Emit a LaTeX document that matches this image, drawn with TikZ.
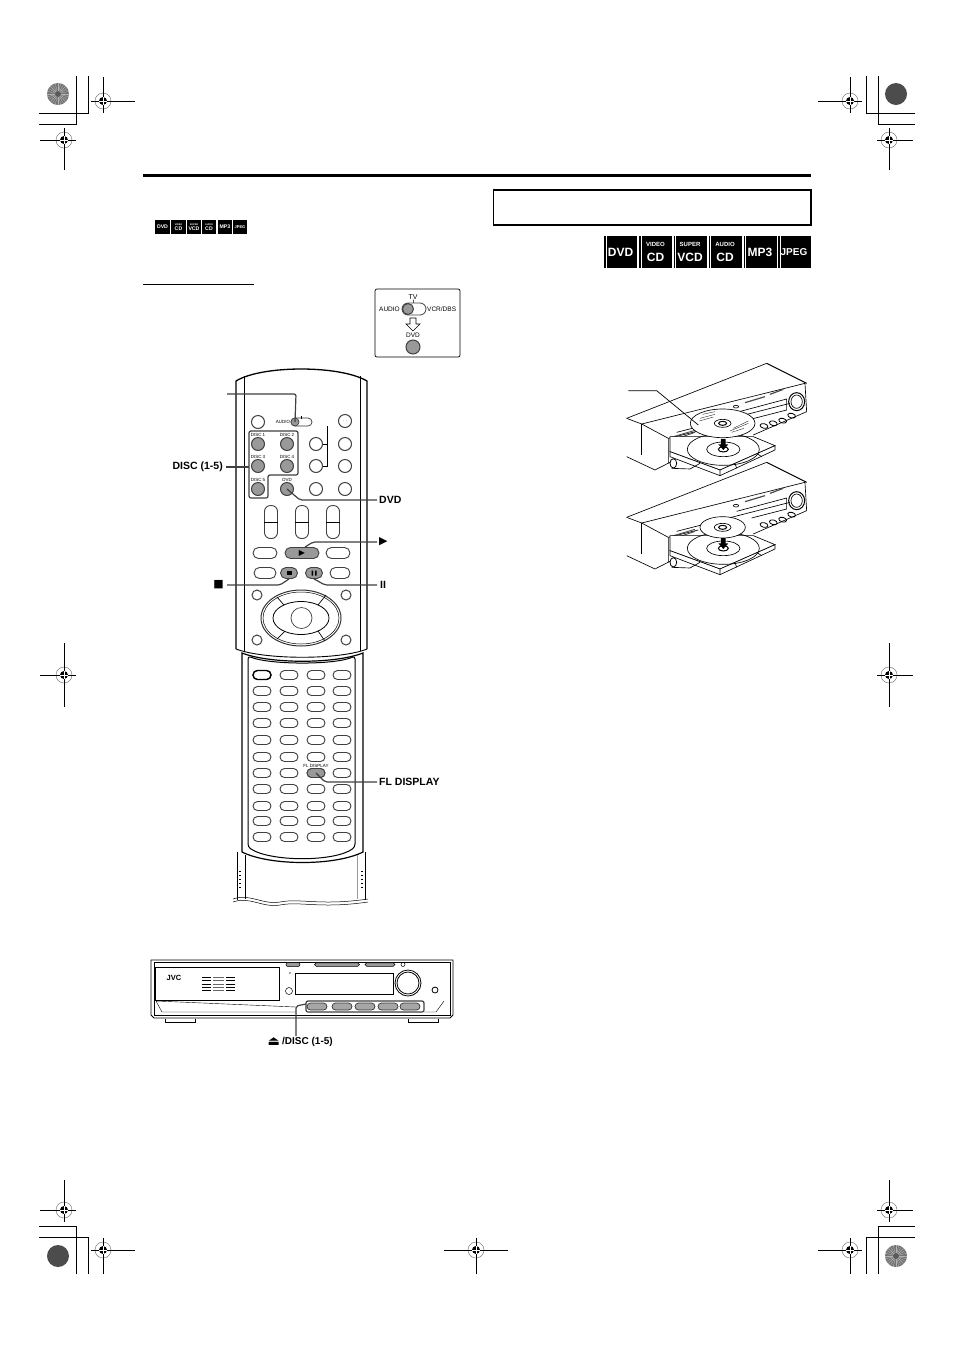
\documentclass[tikz,border=0pt]{standalone}
\usepackage{fontspec}
\setmainfont{Liberation Sans}
\newfontfamily\symfont{DejaVu Sans}
\usepackage{tikz}
\usetikzlibrary{shapes.misc}

\newcommand{\regmark}[6]{%
    \draw[black!60, line width=0.4pt] (#1,#2) circle (8);
    \draw[line width=0.8pt] (#1-#3,#2) -- (#1+#4,#2);
    \draw[line width=0.8pt] (#1,#2-#5) -- (#1,#2+#6);
    \fill (#1,#2) circle (4);
    \draw[white, line width=0.3pt] (#1-4,#2) -- (#1+4,#2) (#1,#2-4) -- (#1,#2+4);
}
\newcommand{\spokedot}[2]{%
    \fill[black!55] (#1,#2) circle (11);
    \foreach \ang in {0,15,...,345} {
        \draw[black!30, line width=0.4pt] (#1,#2) -- ++(\ang:11);
    }
    \fill[black!65] (#1,#2) circle (3);
}
\newcommand{\playerunit}[1]{%
    \begin{scope}[shift={(620,#1)}, x=0.3333pt, y=-0.3333pt, line width=0.65pt]
        \draw (20,190) -- (440,25);
        \draw[line width=1pt] (440,25) .. controls (490,50) .. (560,85);
        \draw (20,190) -- (65,207) -- (555,85) -- (560,170) -- (400,240);
        \draw (65,207) -- (65,300);
        \draw (65,207) -- (145,250) -- (145,325);
        \draw (20,305) -- (105,345) -- (150,322);
        \draw (145,250) -- (235,228) (170,232) -- (510,145);
        \draw[black!70, line width=0.9pt] (150,258) -- (225,232) (150,248) -- (225,226);
        \draw (350,172) -- (500,132) -- (500,165) -- (395,192);
        \draw[line width=1.2pt, black!70] (375,143) -- (435,125) (450,118) -- (490,103);
        \draw (348,155) ellipse [x radius=8, y radius=4];
        \draw[line width=1pt] (530,140) ellipse [x radius=24, y radius=27];
        \draw (530,140) ellipse [x radius=17, y radius=20];
        \foreach \xpos/\ypos in {432/213, 460/205, 488/197, 515/182} {
            \draw[line width=0.8pt, rotate around={-15:(\xpos,\ypos)}] (\xpos,\ypos) ellipse [x radius=12, y radius=7];
        }
        \filldraw[fill=white] (150,290) -- (300,345) -- (465,272) -- (400,245) -- (150,245) -- cycle;
        \filldraw[fill=white] (150,290) -- (150,305) -- (300,362) -- (465,285) -- (465,272) -- (300,345) -- cycle;
        \draw (300,345) -- (300,362) (345,325) -- (350,340) (410,295) -- (425,305);
        \draw (310,283) ellipse [x radius=108, y radius=48];
        \draw (310,283) ellipse [x radius=50, y radius=22];
        \draw[line width=1pt] (310,283) ellipse [x radius=15, y radius=8];
        \draw[line width=0.8pt] (160,325) ellipse [x radius=10, y radius=14];
        \draw (155,340) -- (210,342) -- (240,325);
        \fill (303,252) -- (317,252) -- (317,268) -- (325,268) -- (310,285) -- (295,268) -- (303,268) -- cycle;
    \end{scope}
}
\newcommand{\tinylabel}[3]{\node[tinytext] (#3) at (#1) {#2};}

\begin{document}
\begin{tikzpicture}[
    x=1pt, y=-1pt,
    >=stealth,
    roundbtn/.style={draw=black!75, circle, fill=white, inner sep=0pt, minimum size=13pt, line width=1pt},
    greybtn/.style={roundbtn, fill=black!40},
    pillbtn/.style={draw=black!75, rounded rectangle, fill=white, inner sep=0pt, minimum width=18pt, minimum height=9pt, line width=0.9pt},
    greypill/.style={pillbtn, fill=black!40},
    rocker/.style={draw=black!75, rectangle, rounded corners=6pt, fill=white, minimum width=13pt, minimum height=33pt, line width=0.9pt},
    frontbtn/.style={draw=black!80, rounded rectangle, fill=black!35, inner sep=0pt, minimum width=20pt, minimum height=7pt, line width=0.7pt},
    leader/.style={draw=black!75, line width=1.2pt, rounded corners=2pt},
    callout/.style={font=\fontsize{10.5}{12}\selectfont\bfseries, inner sep=0pt},
    tinytext/.style={font=\fontsize{4.5}{5}\selectfont, inner sep=0pt},
    insettext/.style={font=\fontsize{6.5}{7}\selectfont, inner sep=0pt},
    biglogo/.style={fill=black, text=white, inner sep=0pt, align=center, minimum width=33pt, minimum height=32pt, font=\fontsize{12}{12}\selectfont\bfseries},
    smalllogo/.style={fill=black, text=white, inner sep=0pt, align=center, minimum width=14pt, minimum height=14pt, font=\fontsize{5.2}{5.2}\selectfont\bfseries}
]
    \useasboundingbox (0,0) rectangle (954,1350);
    \fill[white] (0,0) rectangle (954,1350);

    % crop marks
    \draw[line width=0.8pt] (39,113) -- (88,113) -- (88,76) (39,124) -- (76,124) -- (76,76);
    \draw[line width=0.8pt] (915,113) -- (866,113) -- (866,76) (915,124) -- (878,124) -- (878,76);
    \draw[line width=0.8pt] (39,1226) -- (76,1226) -- (76,1274) (39,1237) -- (88,1237) -- (88,1274);
    \draw[line width=0.8pt] (915,1226) -- (878,1226) -- (878,1274) (915,1237) -- (866,1237) -- (866,1274);
    \spokedot{58}{94}
    \spokedot{896}{1256}
    \fill[black!70] (896,94) circle (11);
    \fill[black!70] (58,1256) circle (11);
    \regmark{103}{101}{12}{32}{24}{12}
    \regmark{850}{101}{32}{12}{24}{12}
    \regmark{64}{140}{24}{12}{12}{30}
    \regmark{889}{140}{12}{24}{12}{30}
    \regmark{64}{675}{24}{12}{32}{32}
    \regmark{889}{675}{12}{24}{32}{32}
    \regmark{64}{1210}{24}{12}{30}{12}
    \regmark{889}{1210}{12}{24}{30}{12}
    \regmark{103}{1250}{12}{32}{12}{24}
    \regmark{850}{1250}{32}{12}{12}{24}
    \regmark{476}{1250}{32}{32}{12}{24}

    % page rules
    \draw[line width=3pt] (143,175) -- (811,175);
    \draw[line width=1pt] (143,284) -- (254,284);
    \draw[line width=0.5pt] (493,190) -- (493,225);
    \draw[line width=1.5pt] (493,190) -- (811,190) -- (811,225) -- (493,225);

    % small logos
    \node[smalllogo, minimum width=15pt] (sdvd) at (162.5,227) {DVD};
    \node[smalllogo, minimum width=15pt] (svideo) at (178.5,227) {{\fontsize{2.4}{3}\selectfont VIDEO}\\CD};
    \node[smalllogo, minimum width=14pt] (ssuper) at (194,227) {{\fontsize{2.4}{3}\selectfont SUPER}\\VCD};
    \node[smalllogo, minimum width=14pt] (saudio) at (209,227) {{\fontsize{2.4}{3}\selectfont AUDIO}\\CD};
    \node[smalllogo, minimum width=14pt] (smp) at (225,227) {MP3};
    \node[smalllogo, minimum width=14pt, font=\fontsize{4}{4}\selectfont\bfseries] (sjpeg) at (240,227) {JPEG};

    % big logos
    \node[biglogo] (bdvd) at (620.5,252) {DVD};
    \node[biglogo] (bvideo) at (655.5,252) {{\fontsize{6}{7}\selectfont VIDEO}\\[3pt]CD};
    \node[biglogo] (bsuper) at (690,252) {{\fontsize{6}{7}\selectfont SUPER}\\[3pt]VCD};
    \node[biglogo] (baudio) at (725,252) {{\fontsize{6}{7}\selectfont AUDIO}\\[3pt]CD};
    \node[biglogo] (bmp) at (760,252) {MP3};
    \node[biglogo, font=\fontsize{10}{10}\selectfont\bfseries] (bjpeg) at (794,252) {JPEG};
    \foreach \xpos in {606,641,675,710,745,780} {
        \draw[white, line width=0.6pt] (\xpos,236) -- (\xpos,268);
    }

    % inset
    \node[draw, rounded corners=2pt, line width=0.7pt, minimum width=85pt, minimum height=68pt, inner sep=0pt] (inset) at (417.5,323) {};
    \node[insettext, font=\fontsize{7}{8}\selectfont] (itv) at (413,297) {TV};
    \node[draw=black!75, rounded rectangle, line width=0.8pt, minimum width=24pt, minimum height=12pt, inner sep=0pt] (islide) at (414,309) {};
    \node[greybtn, minimum size=11pt] (iknob) at (408,309) {};
    \node[insettext, anchor=east] (iaudio) at (400,309) {AUDIO};
    \node[insettext, anchor=west] (ivcr) at (427,309) {VCR/DBS};
    \draw[line width=0.6pt] (itv) -- (islide);
    \draw[line width=0.6pt, fill=white] (410,318) -- (416,318) -- (416,324) -- (420,324) -- (413,331) -- (406,324) -- (410,324) -- cycle;
    \node[insettext] (idvd) at (413,335) {DVD};
    \node[greybtn, minimum size=14pt] (idvdbtn) at (413,347) {};

    % remote body
    \draw[line width=1.3pt] (236,649) -- (236,381) .. controls (262,365) and (340,365) .. (367,381) -- (367,649);
    \draw[line width=0.7pt] (244,376) -- (244,651) (360,376) -- (360,651);
    \draw[line width=0.9pt] (236,649) .. controls (265,660) and (340,660) .. (367,649);
    \draw[line width=1.2pt] (242,852) -- (242,653) .. controls (270,664) and (335,664) .. (363,653) -- (363,852) .. controls (335,866) and (270,866) .. (242,852);
    \draw[line width=1pt, rounded corners=3pt] (248,656) .. controls (270,665) and (335,665) .. (355,656) -- (355,847) .. controls (335,862) and (270,862) .. (248,847) -- cycle;
    \draw[line width=0.7pt] (237,852) -- (237,900) (365,852) -- (365,900) (245,855) -- (245,899);
    \draw[black!40, line width=0.7pt] (357,855) -- (357,899);
    \draw[line width=0.5pt] (233,899) .. controls (250,893) and (262,905) .. (280,902) .. controls (300,898) and (320,906) .. (368,899);
    \draw[line width=0.5pt] (233,902) .. controls (250,896) and (262,908) .. (280,905) .. controls (300,901) and (320,909) .. (368,902);
    \foreach \ypos in {871,875,...,887} {
        \draw[line width=0.4pt] (239,\ypos) -- (241,\ypos) (361,\ypos) -- (363,\ypos);
    }

    % top buttons
    \node[roundbtn] (topl) at (258,422) {};
    \node[roundbtn] (topr) at (345,421) {};
    \node[tinytext, font=\fontsize{3}{3}\selectfont] (topdots) at (345,421) {$\cdot\,\cdot$};
    \node[draw=black!80, rounded rectangle, fill=white, line width=0.7pt, minimum width=21pt, minimum height=8pt, inner sep=0pt] (slider) at (301.5,422) {};
    \node[greybtn, minimum size=8pt, line width=0.7pt] (sliderknob) at (295,422) {};
    \tinylabel{283,422}{AUDIO}{audiotxt}
    \draw[line width=0.4pt] (301,416) -- (301,419);

    % disc group
    \draw[leader] (249,431) -- (298,431) -- (298,475) -- (268,475) -- (268,498) -- (249,498) -- cycle;
    \node[greybtn] (disca) at (258,444) {};
    \node[greybtn] (discb) at (287,444) {};
    \node[greybtn] (discc) at (258,466) {};
    \node[greybtn] (discd) at (287,466) {};
    \node[greybtn] (disce) at (258,489) {};
    \node[greybtn] (dvdbtn) at (287,489) {};
    \tinylabel{258,434.5}{DISC 1}{labela}
    \tinylabel{287,434.5}{DISC 2}{labelb}
    \tinylabel{258,457}{DISC 3}{labelc}
    \tinylabel{287,457}{DISC 4}{labeld}
    \tinylabel{258,479.5}{DISC 5}{labele}
    \tinylabel{287,479.5}{DVD}{labeldvd}

    % side buttons
    \node[roundbtn] (mida) at (316,444) {};
    \node[roundbtn] (midb) at (316,466) {};
    \node[roundbtn] (midc) at (316,489) {};
    \node[roundbtn] (rgta) at (345,444) {};
    \node[roundbtn] (rgtb) at (345,466) {};
    \node[roundbtn] (rgtc) at (345,489) {};
    \coordinate (bracktop) at (327,426);
    \draw[line width=0.7pt] (bracktop) -- (bracktop |- midb) -- (midb.east);
    \draw[line width=0.7pt] (mida.east) -- (bracktop |- mida);

    % rockers
    \foreach \xpos/\nm in {271/rocka, 302/rockb, 333/rockc} {
        \node[rocker] (\nm) at (\xpos,522) {};
        \draw[line width=1pt] (\nm.west) -- (\nm.east);
    }

    % transport row
    \node[pillbtn, minimum width=24pt, minimum height=11pt] (ovala) at (265,553) {};
    \node[greypill, minimum width=34pt, minimum height=11pt] (playbtn) at (302,553) {};
    \node[pillbtn, minimum width=24pt, minimum height=11pt] (ovalb) at (338,553) {};
    \node[pillbtn, minimum width=22pt, minimum height=11pt] (ovalc) at (265,573) {};
    \node[greypill, minimum width=17pt, minimum height=11pt] (stopbtn) at (289,573) {};
    \node[greypill, minimum width=17pt, minimum height=11pt] (pausebtn) at (314,573) {};
    \node[pillbtn, minimum width=20pt, minimum height=11pt] (ovald) at (340,573) {};
    \fill (286.5,571) rectangle (291.5,575);
    \fill (311.5,570.5) rectangle (313,575.5) (315,570.5) rectangle (316.5,575.5);

    % dial
    \node[roundbtn, minimum size=10pt] (cora) at (257,595) {};
    \node[roundbtn, minimum size=10pt] (corb) at (346,595) {};
    \node[roundbtn, minimum size=10pt] (corc) at (257,640) {};
    \node[roundbtn, minimum size=10pt] (cord) at (346,640) {};
    \draw[line width=1pt, black!80] (301,618) ellipse [x radius=40, y radius=28];
    \draw[line width=0.5pt] (301,618) ellipse [x radius=38, y radius=26];
    \draw[line width=0.8pt] (301,618) ellipse [x radius=28, y radius=16.5];
    \draw[line width=0.7pt] (277,597) -- (284,605) (326,595) -- (318,605) (277,639) -- (285,631) (325,641) -- (318,631);
    \node[roundbtn, minimum size=21pt, line width=0.7pt] (enter) at (301.5,618) {};

    % lid buttons
    \foreach \xpos/\cola in {262/a, 289/b, 316/c, 342/d} {
        \foreach \ypos/\rowa in {675/1, 691/2, 707/3, 723/4, 740/5, 757/6, 773/7, 789/8, 806/9, 821/10, 837/11} {
            \node[pillbtn] (lid\cola\rowa) at (\xpos,\ypos) {};
        }
    }
    \node[pillbtn, line width=1.4pt, draw=black] (lidfirst) at (262,675) {};
    \node[greypill] (flbtn) at (316,773) {};
    \tinylabel{316,765.5}{FL DISPLAY}{fltiny}

    % callouts
    \coordinate (switchend) at (227,394);
    \draw[leader] (switchend) -- ++(69,0) -- (sliderknob.center);
    \node[callout, anchor=east] (disclabel) at (223,467) {DISC (1-5)};
    \draw[leader] ([xshift=3pt]disclabel.east) -- (249,467);
    \node[callout, anchor=west] (dvdlabel) at (379,500) {DVD};
    \draw[leader] ([xshift=-2pt]dvdlabel.west) -- ++(-77,0) -- (dvdbtn.center);
    \node[anchor=west, inner sep=0pt, font=\symfont\fontsize{11}{11}\selectfont] (playlabel) at (379,542) {▶};
    \draw[leader] ([xshift=-2pt]playlabel.west) -- ++(-64,0) -- ([xshift=3pt]playbtn.north);
    \node[inner sep=0pt, font=\symfont\fontsize{8}{8}\selectfont] (playsym) at (302,553) {▶};
    \node[anchor=east, inner sep=0pt, font=\symfont\fontsize{11}{11}\selectfont] (stoplabel) at (224,585) {■};
    \draw[leader] ([xshift=3pt]stoplabel.east) -- ++(53,0) -- (stopbtn.south);
    \node[callout, anchor=west] (pauselabel) at (380,585) {II};
    \draw[leader] ([xshift=-3pt]pauselabel.west) -- ++(-52,0) -- (pausebtn.south);
    \node[callout, anchor=west] (fllabel) at (379,782) {FL DISPLAY};
    \draw[leader] ([xshift=-2pt]fllabel.west) -- ++(-52,0) -- (flbtn.center);

    % front unit
    \draw[line width=0.8pt] (151,960) -- (453,960) -- (453,1015) -- (450,1018) -- (154,1018) -- (151,1015) -- cycle;
    \draw[line width=0.4pt] (154,962) -- (450,962) -- (450,1015) -- (154,1015) -- cycle;
    \draw[line width=0.7pt] (155,967) rectangle (279,1000);
    \node[font=\fontsize{7.5}{8}\selectfont\bfseries, inner sep=0pt] (jvc) at (174,978) {JVC};
    \foreach \ypos in {977,980.4,...,992} {
        \draw[line width=0.4pt] (202,\ypos) -- (211,\ypos);
        \draw[black!60, line width=0.3pt] (213,\ypos) -- (224,\ypos);
        \draw[line width=0.4pt] (226,\ypos) -- (235,\ypos);
    }
    \draw[line width=0.5pt] (295,973) rectangle (393,994);
    \fill[black!70] (290,973) circle (0.8);
    \node[draw, circle, inner sep=0pt, minimum size=7pt, line width=0.5pt] (powerknob) at (289,991) {};
    \node[draw, circle, inner sep=0pt, minimum size=26pt, line width=0.8pt] (volknob) at (408,983) {};
    \node[draw, circle, inner sep=0pt, minimum size=22pt, line width=0.8pt] (volinner) at (408,983) {};
    \node[draw, circle, inner sep=0pt, minimum size=6pt, line width=0.8pt] (phones) at (435,990) {};
    \node[draw, rounded rectangle, fill=black!40, inner sep=0pt, minimum width=14pt, minimum height=4pt, line width=0.5pt] (pilla) at (293,964.5) {};
    \node[draw, rounded rectangle, fill=black!40, inner sep=0pt, minimum width=45pt, minimum height=3.5pt, line width=0.5pt] (pillb) at (337,964.5) {};
    \node[draw, rounded rectangle, fill=black!40, inner sep=0pt, minimum width=30pt, minimum height=3.5pt, line width=0.5pt] (pillc) at (380,964.5) {};
    \node[draw, circle, inner sep=0pt, minimum size=4pt, line width=0.5pt] (pilld) at (403,964.5) {};
    \draw[line width=0.4pt] (156,1001) -- (162,1012) -- (296,1012) (156,1001) -- (296,1007) (444,1001) -- (436,1012) -- (424,1012);
    \draw[line width=0.7pt] (165,1019) -- (165,1022) -- (195,1022) -- (195,1019);
    \draw[line width=0.7pt] (408,1019) -- (408,1022) -- (438,1022) -- (438,1019);
    \draw[leader] (306,1001) -- (424,1001) -- (424,1012) -- (306,1012) -- cycle;
    \node[frontbtn] (fronta) at (317,1006.5) {};
    \node[frontbtn] (frontb) at (342,1006.5) {};
    \node[frontbtn] (frontc) at (365,1006.5) {};
    \node[frontbtn] (frontd) at (388,1006.5) {};
    \node[frontbtn] (fronte) at (410,1006.5) {};
    \node[callout, anchor=west, font=\fontsize{10}{11}\selectfont\bfseries] (frontlabel) at (282,1042) {/DISC (1-5)};
    \node[anchor=east, inner sep=0pt, font=\symfont\fontsize{13}{13}\selectfont] (ejectsym) at (280,1042) {⏏};
    \coordinate (frontjoin) at (296,1036);
    \draw[leader] (frontjoin) -- (296,1006) -- (306,1004);

    % disc player drawings
    \playerunit{355}
    \begin{scope}[shift={(620,355)}, x=0.3333pt, y=-0.3333pt, line width=0.65pt]
        \filldraw[fill=white] (308,205) ellipse [x radius=97, y radius=43];
        \draw (308,205) ellipse [x radius=25, y radius=12];
        \draw[line width=1pt] (308,205) ellipse [x radius=12, y radius=6];
        \draw[line width=0.3pt] (248,178) -- (285,170) (240,190) -- (285,178) (238,198) -- (280,186);
        \draw[line width=0.3pt] (330,228) -- (385,205) (340,220) -- (385,198) (335,232) -- (372,220);
        \coordinate (discleader) at (235,210);
        \coordinate (leaderend) at (25,107);
        \draw[line width=0.7pt] (leaderend) -- (110,107) -- (discleader);
    \end{scope}
    \playerunit{454}
    \begin{scope}[shift={(620,454)}, x=0.3333pt, y=-0.3333pt, line width=0.65pt]
        \filldraw[fill=white] (308,220) ellipse [x radius=68, y radius=32];
        \draw (308,220) ellipse [x radius=25, y radius=12];
        \draw[line width=1pt] (308,220) ellipse [x radius=12, y radius=6];
    \end{scope}
\end{tikzpicture}
\end{document}
